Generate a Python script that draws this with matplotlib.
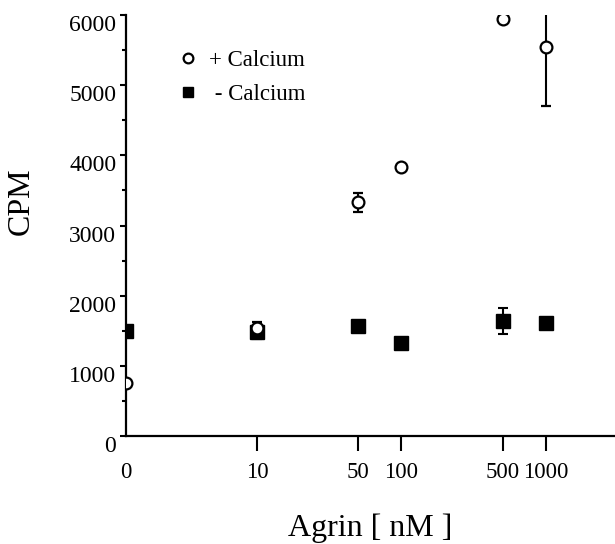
"""
Agrin dose response: CPM with and without calcium.
"""
import matplotlib
matplotlib.use("Agg")
import matplotlib.pyplot as plt
import matplotlib.ticker as ticker
from matplotlib.lines import Line2D

plt.rcParams["font.family"] = ["Liberation Serif", "DejaVu Serif"]

agrin_nM = [0, 10, 50, 100, 500, 1000]
x_tick_labels = ["0", "10", "50", "100", "500", "1000"]

plus_ca = [755, 1540, 3330, 3830, 5950, 5540]
plus_ca_err = [0, 80, 140, 0, 0, 830]

minus_ca = [1500, 1480, 1570, 1330, 1640, 1615]
minus_ca_err = [0, 100, 0, 0, 185, 50]

fig = plt.figure(figsize=(6.15, 5.44), dpi=100)
ax = fig.add_axes([126 / 615, 108 / 544, 489 / 615, 421 / 544])

ax.set_xscale("symlog", linthresh=10, linscale=0.815)
ax.set_xlim(0, 3000)
ax.set_ylim(0, 6000)

# squares underneath, open circles on top
ax.errorbar(agrin_nM, minus_ca, yerr=minus_ca_err, fmt="s", color="black",
            ms=9.5, capsize=3.5, elinewidth=1.5, capthick=1.5, zorder=3)
ax.errorbar(agrin_nM, plus_ca, yerr=plus_ca_err, fmt="o", color="black",
            mfc="white", mec="black", mew=1.6, ms=8.5, capsize=3.5,
            elinewidth=1.5, capthick=1.5, zorder=4)

ax.spines[["top", "right"]].set_visible(False)
ax.spines[["left", "bottom"]].set_linewidth(1.6)

ax.set_xticks(agrin_nM)
ax.set_xticklabels(x_tick_labels)
ax.xaxis.set_minor_locator(ticker.NullLocator())
ax.yaxis.set_major_locator(ticker.MultipleLocator(1000))
ax.yaxis.set_minor_locator(ticker.MultipleLocator(500))

ax.tick_params(axis="x", direction="out", length=11, width=1.5, pad=8,
               labelsize=16.5)
ax.tick_params(axis="y", which="major", direction="out", length=4, width=1.5,
               pad=3, labelsize=17)
ax.tick_params(axis="y", which="minor", direction="out", length=3, width=1.5)
for lbl in ax.get_yticklabels():
    lbl.set_verticalalignment("top")
# no tick mark drawn at 0 on x
ax.xaxis.get_major_ticks()[0].tick1line.set_visible(False)

ax.set_xlabel("Agrin [ nM ]", fontsize=23, labelpad=22)
ax.set_ylabel("CPM", fontsize=23)
ax.yaxis.set_label_coords(-0.184, 0.558)

handles = [
    Line2D([], [], marker="o", ls="none", color="black", mfc="white",
           mew=1.6, ms=7),
    Line2D([], [], marker="s", ls="none", color="black", ms=7.5),
]
ax.legend(handles, ["+ Calcium", " - Calcium"], loc="upper left",
          bbox_to_anchor=(0.057, 0.965), frameon=False, fontsize=16.5,
          handletextpad=0.3, labelspacing=0.55, handlelength=1.2)

fig.savefig("out.png", dpi=100, facecolor="white")
